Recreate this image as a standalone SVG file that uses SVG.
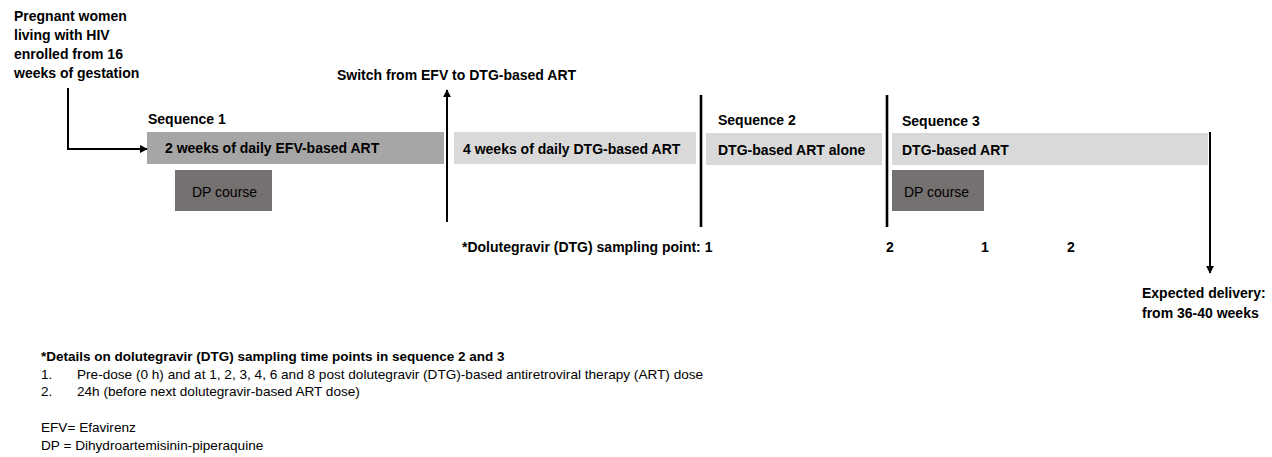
<svg xmlns="http://www.w3.org/2000/svg" width="1272" height="457" viewBox="0 0 1272 457">
  <defs>
    <marker id="arrow" viewBox="0 0 10 10" refX="9" refY="5" markerWidth="4" markerHeight="4" markerUnits="strokeWidth" orient="auto">
      <path d="M0,0 L10,5 L0,10 z" fill="#000"/>
    </marker>
    <style>
      text { font-family: "Liberation Sans", Arial, sans-serif; fill: #000; }
      .b { font-weight: bold; font-size: 14px; }
      .r { font-size: 14px; }
      .note { font-size: 13.6px; }
      .noteb { font-size: 13.5px; font-weight: bold; }
      .dark { fill: #a6a6a6; }
      .light { fill: #d9d9d9; }
      .dp { fill: #757171; }
      .conn { stroke: #000; stroke-width: 2; fill: none; }
      .div { stroke: #000; stroke-width: 2.6; fill: none; }
    </style>
  </defs>

  <rect width="1272" height="457" fill="#fff"/>

  <!-- enrolment label -->
  <g id="enrolment">
    <text class="b" x="14" y="21">Pregnant women</text>
    <text class="b" x="14" y="40">living with HIV</text>
    <text class="b" x="14" y="59">enrolled from 16</text>
    <text class="b" x="14" y="78">weeks of gestation</text>
  </g>

  <g id="switch-label">
    <text class="b" x="337" y="80">Switch from EFV to DTG-based ART</text>
  </g>

  <!-- sequence 1 -->
  <g id="sequence1">
    <text class="b" x="148" y="124">Sequence 1</text>
    <rect class="dark" x="147" y="132" width="297" height="32"/>
    <text class="b" x="165" y="153">2 weeks of daily EFV-based ART</text>
  </g>
  <g id="dp-course-1">
    <rect class="dp" x="175" y="170" width="97" height="41"/>
    <text class="r" x="192" y="197">DP course</text>
  </g>

  <g id="dtg-4weeks">
    <rect class="light" x="454" y="132" width="242" height="32"/>
    <text class="b" x="463" y="154">4 weeks of daily DTG-based ART</text>
  </g>

  <!-- sequence 2 -->
  <g id="sequence2">
    <text class="b" x="718" y="125">Sequence 2</text>
    <rect class="light" x="706" y="133" width="176" height="32"/>
    <text class="b" x="718" y="155">DTG-based ART alone</text>
  </g>

  <!-- sequence 3 -->
  <g id="sequence3">
    <text class="b" x="902" y="126">Sequence 3</text>
    <rect class="light" x="892" y="133" width="316" height="32"/>
    <text class="b" x="902" y="155">DTG-based ART</text>
  </g>
  <g id="dp-course-2">
    <rect class="dp" x="892" y="170" width="92" height="41"/>
    <text class="r" x="904" y="197">DP course</text>
  </g>

  <!-- sampling points -->
  <g id="sampling">
    <text class="b" x="462" y="252">*Dolutegravir (DTG) sampling point: 1</text>
    <text class="b" x="886" y="252">2</text>
    <text class="b" x="981" y="252">1</text>
    <text class="b" x="1067" y="252">2</text>
  </g>

  <g id="delivery-label">
    <text class="b" x="1142" y="298">Expected delivery:</text>
    <text class="b" x="1142" y="318">from 36-40 weeks</text>
  </g>

  <!-- connectors and dividers -->
  <g id="connectors">
    <polyline class="conn" points="68,88 68,149 147,149" marker-end="url(#arrow)"/>
    <line class="conn" x1="447" y1="222" x2="447" y2="90" marker-end="url(#arrow)"/>
    <line class="div" x1="701" y1="95" x2="701" y2="227"/>
    <line class="div" x1="887" y1="95" x2="887" y2="227"/>
    <line class="conn" x1="1210" y1="132" x2="1210" y2="273" marker-end="url(#arrow)"/>
  </g>

  <!-- footnotes -->
  <g id="footnotes">
    <text class="noteb" x="41" y="361">*Details on dolutegravir (DTG) sampling time points in sequence 2 and 3</text>
    <text class="note" x="41" y="379">1.</text>
    <text class="note" x="77" y="379">Pre-dose (0 h) and at 1, 2, 3, 4, 6 and 8 post dolutegravir (DTG)-based antiretroviral therapy (ART) dose</text>
    <text class="note" x="41" y="396">2.</text>
    <text class="note" x="77" y="396">24h (before next dolutegravir-based ART dose)</text>
    <text class="note" x="41" y="432">EFV= Efavirenz</text>
    <text class="note" x="41" y="450">DP  = Dihydroartemisinin-piperaquine</text>
  </g>
</svg>
